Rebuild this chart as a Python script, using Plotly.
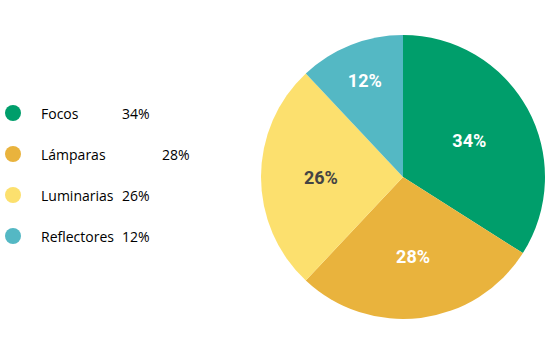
import plotly.graph_objects as go

categories = ["Focos", "Lámparas", "Luminarias", "Reflectores"]
values = [34, 28, 26, 12]
colors = ["#009E6B", "#E9B33D", "#FCE06E", "#54B8C4"]
text_colors = ["#FFFFFF", "#FFFFFF", "#444444", "#FFFFFF"]

W, H = 550, 354

def px(x):
    return x / W

def py(y):
    return 1 - y / H

fig = go.Figure(go.Pie(
    labels=categories,
    values=values,
    marker=dict(colors=colors, line=dict(width=0)),
    sort=False,
    direction="clockwise",
    rotation=0,
    texttemplate="%{percent:.0%}",
    textposition="inside",
    insidetextorientation="horizontal",
    textfont=dict(family="Roboto", size=18, color=text_colors, weight="bold"),
    domain=dict(x=[px(261), px(545)], y=[py(319), py(35)]),
    showlegend=False,
    hoverinfo="label+percent",
))

shapes = []
annotations = []
legend_y = [113, 154, 195, 236]
pct_x = [120, 160, 120, 120]
for i, (cat, v, c) in enumerate(zip(categories, values, colors)):
    yc = legend_y[i]
    shapes.append(dict(type="circle", xref="paper", yref="paper",
                       x0=px(5), x1=px(21), y0=py(yc + 8), y1=py(yc - 8),
                       fillcolor=c, line=dict(width=0)))
    annotations.append(dict(x=px(39), y=py(yc), xref="paper", yref="paper",
                            text=cat, showarrow=False, xanchor="left", yanchor="middle",
                            font=dict(family="Open Sans", size=14, color="#000000")))
    annotations.append(dict(x=px(pct_x[i]), y=py(yc), xref="paper", yref="paper",
                            text=f"{v}%", showarrow=False, xanchor="left", yanchor="middle",
                            font=dict(family="Open Sans", size=14, color="#000000")))

fig.update_layout(
    width=W, height=H,
    margin=dict(l=0, r=0, t=0, b=0),
    paper_bgcolor="white",
    plot_bgcolor="white",
    shapes=shapes,
    annotations=annotations,
)

fig.write_html("out.html")
